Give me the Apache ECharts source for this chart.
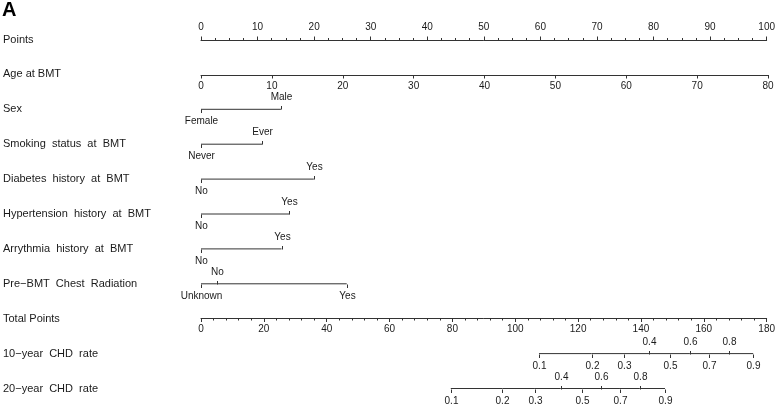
<!DOCTYPE html>
<html>
<head>
<meta charset="utf-8">
<script src="https://cdn.jsdelivr.net/npm/echarts@6/dist/echarts.min.js"></script>
<style>
  html, body { margin: 0; background: #fff; }
  #chart { width: 778px; height: 406px; }
</style>
</head>
<body>
<div id="chart"></div>
<script>
// row labels (top to bottom)
const rowLabels = [
  "Points",
  "Age at BMT",
  "Sex",
  "Smoking  status  at  BMT",
  "Diabetes  history  at  BMT",
  "Hypertension  history  at  BMT",
  "Arrythmia  history  at  BMT",
  "Pre\u2212BMT  Chest  Radiation",
  "Total Points",
  "10\u2212year  CHD  rate",
  "20\u2212year  CHD  rate"
]

// categorical predictors: level names and their points
const sexLevels = ["Female", "Male"]
const sexPoints = [0, 14.1]
const smokingLevels = ["Never", "Ever"]
const smokingPoints = [0, 10.8]
const diabetesLevels = ["No", "Yes"]
const diabetesPoints = [0, 19.9]
const hypertensionLevels = ["No", "Yes"]
const hypertensionPoints = [0, 15.6]
const arrythmiaLevels = ["No", "Yes"]
const arrythmiaPoints = [0, 14.2]
const radiationLevels = ["Unknown", "No", "Yes"]
const radiationPoints = [0, 2.8, 25.7]

// CHD rate scales, positioned on total points
const chdRates = ["0.1", "0.2", "0.3", "0.4", "0.5", "0.6", "0.7", "0.8", "0.9"]
const chd10Total = [107.3, 124, 134.3, 142.2, 148.9, 155.2, 161.3, 167.7, 175.3]
const chd20Total = [79.3, 95.7, 106, 114.2, 121, 127, 133, 139.3, 147.3]

// which labels sit above the line (layout only)
const twoLevelUp = [false, true]
const radiationUp = [false, true, false]
const chdUp = [false, false, false, true, false, true, false, true, false]

const FONT = "'Liberation Sans', Arial, sans-serif"
const LINE = "#333"
const TEXT = "#1a1a1a"

const catRows = [
  { row: 2, levels: sexLevels, pts: sexPoints, up: twoLevelUp },
  { row: 3, levels: smokingLevels, pts: smokingPoints, up: twoLevelUp },
  { row: 4, levels: diabetesLevels, pts: diabetesPoints, up: twoLevelUp },
  { row: 5, levels: hypertensionLevels, pts: hypertensionPoints, up: twoLevelUp },
  { row: 6, levels: arrythmiaLevels, pts: arrythmiaPoints, up: twoLevelUp },
  { row: 7, levels: radiationLevels, pts: radiationPoints, up: radiationUp }
]
const chdRows = [
  { row: 9, levels: chdRates, pts: chd10Total, up: chdUp },
  { row: 10, levels: chdRates, pts: chd20Total, up: chdUp }
]

function flatten(rows) {
  const out = []
  rows.forEach(r => r.pts.forEach((p, i) => out.push({ x: p, row: r.row, label: r.levels[i], up: r.up[i] })))
  return out
}
const catItems = flatten(catRows)
const chdItems = flatten(chdRows)

function tickRenderer(items) {
  return function (params, api) {
    const it = items[params.dataIndex]
    const pt = api.coord([api.value(0), api.value(1)])
    const x = Math.round(pt[0]) + 0.5
    const y = Math.round(pt[1]) + 0.5
    const dir = it.up ? -1 : 1
    return {
      type: "group",
      children: [
        {
          type: "line",
          shape: { x1: x, y1: y, x2: x, y2: y + dir * 3.5 },
          style: { stroke: LINE, lineWidth: 1 }
        },
        {
          type: "text",
          style: {
            x: x, y: y + dir * 12,
            text: it.label,
            align: "center", verticalAlign: "middle",
            font: "10px " + FONT, fill: TEXT
          }
        }
      ]
    }
  }
}

const segmentStyle = { color: LINE, width: 1 }
const series = []
catRows.forEach(r => series.push({
  type: "line", xAxisIndex: 0, yAxisIndex: 0, symbol: "none", silent: true,
  lineStyle: segmentStyle, data: r.pts.map(p => [p, r.row])
}))
chdRows.forEach(r => series.push({
  type: "line", xAxisIndex: 1, yAxisIndex: 0, symbol: "none", silent: true,
  lineStyle: segmentStyle, data: r.pts.map(p => [p, r.row])
}))
series.push({
  type: "custom", xAxisIndex: 0, yAxisIndex: 0, silent: true,
  renderItem: tickRenderer(catItems), data: catItems.map(d => [d.x, d.row])
})
series.push({
  type: "custom", xAxisIndex: 1, yAxisIndex: 0, silent: true,
  renderItem: tickRenderer(chdItems), data: chdItems.map(d => [d.x, d.row])
})

const labelStyle = { color: TEXT, fontSize: 10, fontFamily: FONT }
const hiddenY = idx => ({ type: "value", gridIndex: idx, show: false, min: 0, max: 1 })

const chart = echarts.init(document.getElementById("chart"))
chart.setOption({
  animation: false,
  title: {
    text: "A", left: 2, top: 0, padding: 0,
    textStyle: { fontSize: 20, fontWeight: "bold", color: "#000", fontFamily: FONT }
  },
  grid: [
    { left: 201, width: 567, top: 39.5, height: 349 },  // rows
    { left: 201, width: 567, top: 39, height: 1 },      // Points axis
    { left: 201, width: 567, top: 74, height: 1 },      // Age axis
    { left: 201, width: 567, top: 317.5, height: 1 }    // Total points axis
  ],
  xAxis: [
    { type: "value", gridIndex: 0, min: 0, max: 100, show: false },
    { type: "value", gridIndex: 0, min: 0, max: 180, show: false },
    {
      type: "value", gridIndex: 1, position: "top", min: 0, max: 100, interval: 10,
      axisLine: { lineStyle: { color: LINE } },
      axisTick: { length: 3.5, lineStyle: { color: LINE } },
      minorTick: { show: true, splitNumber: 4, length: 2, lineStyle: { color: LINE } },
      axisLabel: Object.assign({ margin: 7 }, labelStyle),
      splitLine: { show: false }
    },
    {
      type: "value", gridIndex: 2, position: "bottom", min: 0, max: 80, interval: 10,
      axisLine: { lineStyle: { color: LINE } },
      axisTick: { length: 3.5, lineStyle: { color: LINE } },
      axisLabel: Object.assign({ margin: 6 }, labelStyle),
      splitLine: { show: false }
    },
    {
      type: "value", gridIndex: 3, position: "bottom", min: 0, max: 180, interval: 20,
      axisLine: { lineStyle: { color: LINE } },
      axisTick: { length: 3.5, lineStyle: { color: LINE } },
      minorTick: { show: true, splitNumber: 5, length: 2, lineStyle: { color: LINE } },
      axisLabel: Object.assign({ margin: 6 }, labelStyle),
      splitLine: { show: false }
    }
  ],
  yAxis: [
    {
      type: "value", gridIndex: 0, min: 0, max: 10, interval: 1, inverse: true,
      axisLine: { show: false }, axisTick: { show: false }, splitLine: { show: false },
      axisLabel: {
        formatter: v => rowLabels[v] || "",
        align: "left", margin: 198,
        color: TEXT, fontSize: 11, fontFamily: FONT
      }
    },
    hiddenY(1), hiddenY(2), hiddenY(3)
  ],
  series: series
})
</script>
</body>
</html>
